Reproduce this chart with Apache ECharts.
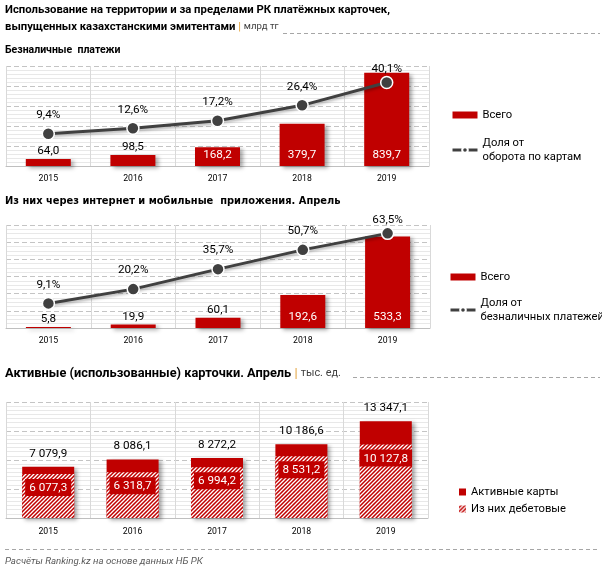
<!DOCTYPE html>
<html><head><meta charset="utf-8">
<script src="https://cdn.jsdelivr.net/npm/echarts@6/dist/echarts.min.js"></script>
<style>html,body{margin:0;padding:0;background:#fff}#c{width:602px;height:570px}</style>
</head><body><div id="c"></div>
<script>
// ---- data ----
const years = ['2015', '2016', '2017', '2018', '2019'];
const cashlessTotal = [64.0, 98.5, 168.2, 379.7, 839.7];
const cashlessShare = [9.4, 12.6, 17.2, 26.4, 40.1];
const onlineTotal = [5.8, 19.9, 60.1, 192.6, 533.3];
const onlineShare = [9.1, 20.2, 35.7, 50.7, 63.5];
const activeCards = [7079.9, 8086.1, 8272.2, 10186.6, 13347.1];
const debitCards = [6077.3, 6318.7, 6994.2, 8531.2, 10127.8];

const RED = '#C00000', DARK = '#404040';
const FONT = "Roboto, 'Liberation Sans', sans-serif";
const FONT2 = "'DejaVu Sans', sans-serif";

// size a font so that a sample string has the width it has in the reference
const mctx = document.createElement('canvas').getContext('2d');
function fit(text, target, weight, family, style) {
  mctx.font = (style || 'normal') + ' ' + (weight || 'normal') + ' 100px ' + family;
  return Math.round(100 * target / mctx.measureText(text).width * 10) / 10;
}

function fmt(v) {
  const s = v.toFixed(1).split('.');
  return s[0].replace(/\B(?=(\d{3})+(?!\d))/g, ' ') + ',' + s[1];
}
function pct(v) { return v.toFixed(1).replace('.', ',') + '%'; }

function hatch() {
  const c = document.createElement('canvas'); c.width = 4; c.height = 4;
  const g = c.getContext('2d');
  g.fillStyle = RED; g.fillRect(0, 0, 4, 4);
  g.strokeStyle = '#fff'; g.lineWidth = 1.3;
  g.beginPath();
  g.moveTo(-1, 5); g.lineTo(5, -1);
  g.moveTo(-1, 1); g.lineTo(1, -1);
  g.moveTo(3, 5); g.lineTo(5, 3);
  g.stroke();
  return { image: c, repeat: 'repeat' };
}

const T1 = 'Использование на территории и за пределами РК платёжных карточек,';
const T1b = 'выпущенных казахстанскими эмитентами';
const T2 = 'Безналичные  платежи';
const T3 = 'Из них через интернет и мобильные  приложения. Апрель';
const T4 = 'Активные (использованные) карточки. Апрель';
const SRC = 'Расчёты Ranking.kz на основе данных НБ РК';

const sT1 = fit(T1, 386, 'bold', FONT);
const sT2 = fit(T2, 116, 'bold', FONT);
const sT3 = fit(T3, 337, 'bold', FONT2);
const sT4 = fit(T4, 286, 'bold', FONT);
const sSRC = fit(SRC, 199, 'normal', FONT, 'italic');
const sLab = fit('64,0', 22, 'normal', FONT);
const sYear = fit('2015', 19.5, 'normal', FONT);
const sLeg = fit('оборота по картам', 99, 'normal', FONT);

function barData(vals, max) {
  return vals.map(v => {
    const inside = v > max * 0.15;
    return {
      value: v,
      label: inside ? { position: 'insideBottom', distance: 5, color: '#fff' }
                    : { position: 'top', distance: 2, color: '#000' }
    };
  });
}
function lineData(vals, min, max) {
  return vals.map(v => {
    const nearTop = (v - min) / (max - min) > 0.8;
    return { value: v, label: { distance: nearTop ? 1 : 6 } };
  });
}

const chart = echarts.init(document.getElementById('c'), null, { renderer: 'canvas' });

const grids = [
  { left: 6, right: 173, top: 66, height: 100 },
  { left: 6, right: 172, top: 225, height: 103 },
  { left: 6, right: 174, top: 402, height: 116 }
];

function xAx(i, margin) {
  return {
    type: 'category', gridIndex: i, data: years,
    axisLine: { lineStyle: { color: '#bfbfbf' } },
    axisTick: { show: false },
    axisLabel: { fontFamily: FONT, fontSize: sYear, color: '#000', margin: margin },
    splitLine: { show: true, lineStyle: { color: '#d9d9d9', width: 1 } }
  };
}
function yLeft(i, max, interval, minorN) {
  return {
    type: 'value', gridIndex: i, min: 0, max: max, interval: interval,
    axisLabel: { show: false }, axisLine: { show: false }, axisTick: { show: false },
    splitLine: { show: true, lineStyle: { color: '#c4c4c4', type: [5, 3] } },
    minorTick: { show: false, splitNumber: minorN },
    minorSplitLine: { show: true, lineStyle: { color: '#e8e8e8', width: 1 } }
  };
}
function yRight(i, min, max) {
  return {
    type: 'value', gridIndex: i, min: min, max: max, position: 'right',
    axisLabel: { show: false }, axisLine: { show: false }, axisTick: { show: false },
    splitLine: { show: false }
  };
}

const barShadow = { shadowColor: 'rgba(0,0,0,0.35)', shadowBlur: 4, shadowOffsetX: 3, shadowOffsetY: 2 };
const lineCommon = {
  type: 'line', symbol: 'circle', symbolSize: 12,
  lineStyle: { color: DARK, width: 3, shadowColor: 'rgba(0,0,0,0.3)', shadowBlur: 3, shadowOffsetY: 2 },
  itemStyle: { color: DARK, borderColor: '#fff', borderWidth: 1.5 },
  label: { show: true, position: 'top', formatter: p => pct(p.value),
           fontFamily: FONT, fontSize: sLab, color: '#000' },
  z: 5
};
const barLabel = { show: true, fontFamily: FONT, fontSize: sLab, formatter: p => fmt(p.value) };

const bold = (size, fam, lh) => ({ fontFamily: fam, fontSize: size, fontWeight: 'bold', color: '#000', lineHeight: lh });
const units = size => ({
  p: { color: '#E3A33B', fontSize: size, fontFamily: FONT, fontWeight: 'normal' },
  u: { color: '#404040', fontSize: size * 0.85, fontWeight: 'normal', fontFamily: FONT }
});
const legText = { fontFamily: FONT, fontSize: sLeg, color: '#000', lineHeight: 14 };
const legLine = { width: 3, color: DARK, shadowBlur: 0 };

const option = {
  animation: false,
  textStyle: { fontFamily: FONT },
  title: [
    { left: 5, top: 2, padding: 0, text: T1 + '\n' + T1b + ' {p||} {u|млрд тг}',
      textStyle: Object.assign(bold(sT1, FONT, 16.5), { rich: units(sT1) }) },
    { left: 5, top: 43, padding: 0, text: T2, textStyle: bold(sT2, FONT, 14) },
    { left: 5, top: 194, padding: 0, text: T3, textStyle: bold(sT3, FONT2, 14) },
    { left: 5, top: 365, padding: 0, text: T4 + ' {p||} {u|тыс. ед.}',
      textStyle: Object.assign(bold(sT4, FONT, 17), { rich: units(sT4) }) },
    { left: 5, top: 555, padding: 0, text: SRC,
      textStyle: { fontFamily: FONT, fontSize: sSRC, fontStyle: 'italic', fontWeight: 'normal', color: '#595959', lineHeight: 14 } }
  ],
  legend: [
    { left: 451, top: 108, padding: 0, orient: 'vertical', itemWidth: 25, itemHeight: 7, itemGap: 7,
      data: [{ name: 'Всего', icon: 'rect' },
             { name: 'Доля от\nоборота по картам', textStyle: { padding: [14, 0, 0, 0] }, lineStyle: legLine }],
      textStyle: legText },
    { left: 449, top: 270, padding: 0, orient: 'vertical', itemWidth: 25, itemHeight: 7, itemGap: 5,
      data: [{ name: 'Всего', icon: 'rect' },
             { name: 'Доля от\nбезналичных платежей', textStyle: { padding: [14, 0, 0, 0] }, lineStyle: legLine }],
      textStyle: legText },
    { left: 459, top: 485, padding: 0, orient: 'vertical', itemWidth: 7, itemHeight: 7, itemGap: 3, icon: 'rect',
      data: ['Активные карты', 'Из них дебетовые'],
      textStyle: legText }
  ],
  grid: grids,
  xAxis: [xAx(0, 8), xAx(1, 8), xAx(2, 9)],
  yAxis: [
    yLeft(0, 900, 180, 5), yRight(0, -10, 50),
    yLeft(1, 600, 100, 4), yRight(1, -10, 70),
    yLeft(2, 16000, 4000, 7)
  ],
  series: [
    { name: 'Всего', type: 'bar', xAxisIndex: 0, yAxisIndex: 0, barWidth: 45,
      itemStyle: Object.assign({ color: RED }, barShadow),
      label: barLabel, data: barData(cashlessTotal, 900) },
    Object.assign({ name: 'Доля от\nоборота по картам', xAxisIndex: 0, yAxisIndex: 1,
                    data: lineData(cashlessShare, -10, 50) }, lineCommon),
    { name: 'Всего', type: 'bar', xAxisIndex: 1, yAxisIndex: 2, barWidth: 45,
      itemStyle: Object.assign({ color: RED }, barShadow),
      label: barLabel, data: barData(onlineTotal, 600) },
    Object.assign({ name: 'Доля от\nбезналичных платежей', xAxisIndex: 1, yAxisIndex: 3,
                    data: lineData(onlineShare, -10, 70) }, lineCommon),
    { name: 'Активные карты', type: 'bar', xAxisIndex: 2, yAxisIndex: 4, barWidth: 52, barGap: '-100%',
      itemStyle: Object.assign({ color: RED }, barShadow),
      label: { show: true, position: 'top', distance: 7, fontFamily: FONT, fontSize: sLab, color: '#000', formatter: p => fmt(p.value) },
      data: activeCards },
    { name: 'Из них дебетовые', type: 'bar', xAxisIndex: 2, yAxisIndex: 4, barWidth: 52, barGap: '-100%',
      itemStyle: { color: hatch() },
      label: { show: true, position: 'insideTop', distance: 5, fontFamily: FONT, fontSize: sLab, color: '#fff',
               backgroundColor: RED, padding: [3, 4, 2, 4], formatter: p => fmt(p.value) },
      data: debitCards }
  ],
  graphic: [
    { type: 'line', shape: { x1: 283, y1: 33.5, x2: 600, y2: 33.5 }, style: { stroke: '#a6a6a6', lineWidth: 1, lineDash: [4, 3] } },
    { type: 'line', shape: { x1: 353, y1: 377.5, x2: 600, y2: 377.5 }, style: { stroke: '#a6a6a6', lineWidth: 1, lineDash: [4, 3] } },
    { type: 'line', shape: { x1: 5, y1: 549.5, x2: 600, y2: 549.5 }, style: { stroke: '#a6a6a6', lineWidth: 1, lineDash: [4, 3] } }
  ]
};
chart.setOption(option);
</script></body></html>
